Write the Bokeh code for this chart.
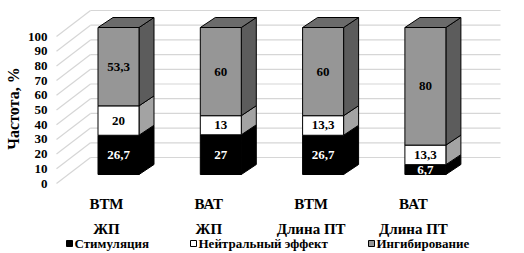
import math
from bokeh.plotting import figure
from bokeh.models import Range1d
from bokeh.core.properties import value
from bokeh.embed import file_html
from bokeh.resources import INLINE

# ---- data ----
group_top = ["ВТМ", "ВАТ", "ВТМ", "ВАТ"]
group_bottom = ["ЖП", "ЖП", "Длина ПТ", "Длина ПТ"]
series_names = ["Стимуляция", "Нейтральный эффект", "Ингибирование"]
stimulation = [26.7, 27, 26.7, 6.7]
neutral = [20, 13, 13.3, 13.3]
inhibition = [53.3, 60, 60, 80]
y_ticks = [0, 10, 20, 30, 40, 50, 60, 70, 80, 90, 100]
y_title = "Частота, %"

# ---- styling / geometry ----
W, H = 524, 253
X0, XS = 118.0, 102.3   # pixel of first bar centre, px per category
Y0, YS = 174.0, 1.47    # pixel of value 0 on bar front plane, px per percent
FONT = value("Liberation Serif")

def px_x(px):  # pixel x -> data x
    return (px - X0) / XS

def px_y(py):  # pixel y -> data y
    return (Y0 - py) / YS

def ox(px):
    return px / XS

def oy(px):  # upward pixel offset -> data
    return px / YS

front_cols = ["#000000", "#ffffff", "#969696"]
side_cols = ["#000000", "#a3a3a3", "#5c5c5c"]
top_cols = ["#000000", "#8c8c8c", "#6b6b6b"]
text_cols = ["#ffffff", "#000000", "#000000"]

p = figure(width=W, height=H, x_range=Range1d(px_x(0), px_x(W)),
           y_range=Range1d(px_y(H), px_y(0)), output_backend="svg",
           toolbar_location=None, min_border=0)
p.xaxis.visible = False
p.yaxis.visible = False
p.xgrid.visible = False
p.ygrid.visible = False
p.outline_line_color = None
p.background_fill_color = "#ffffff"

# ---- gridlines: back wall and left wall ----
BACK_DX, BACK_DY = 23, 17     # back wall offset from bar front plane (px)
LAB_DX, LAB_DY = -12, -9      # label plane offset from bar front plane (px)
wall_left_px, wall_right_px = 90, 500
p.segment(x0=[px_x(wall_left_px)] * len(y_ticks), x1=[px_x(wall_right_px)] * len(y_ticks),
          y0=[v + oy(BACK_DY) for v in y_ticks], y1=[v + oy(BACK_DY) for v in y_ticks],
          line_color="#d6d6d6", line_width=1.2)
p.segment(x0=[px_x(56)] * len(y_ticks), x1=[px_x(wall_left_px)] * len(y_ticks),
          y0=[v + oy(LAB_DY) for v in y_ticks], y1=[v + oy(BACK_DY) for v in y_ticks],
          line_color="#d6d6d6", line_width=1.2)

# ---- tick labels ----
p.text(x=[px_x(47)] * len(y_ticks), y=[v + oy(LAB_DY) for v in y_ticks],
       text=[str(v) for v in y_ticks], text_align="right", text_baseline="middle",
       text_font=FONT, text_font_style="bold", text_font_size="13px", text_color="#000000")

p.text(x=[px_x(13)], y=[px_y(108)], text=[y_title], angle=math.pi / 2,
       text_align="center", text_baseline="middle", text_font=FONT,
       text_font_style="bold", text_font_size="16px", text_color="#000000")

# ---- 3D stacked bars ----
HALF = ox(20.5)
DDX, DDY = ox(15), oy(10)
series = [stimulation, neutral, inhibition]
for i in range(len(group_top)):
    base = 0.0
    l, r = i - HALF, i + HALF
    for s, vals in enumerate(series):
        v = vals[i]
        b, t = base, base + v
        p.patch([r, r + DDX, r + DDX, r], [b, b + DDY, t + DDY, t],
                fill_color=side_cols[s], line_color="#000000", line_width=1)
        if s == len(series) - 1:
            p.patch([l, r, r + DDX, l + DDX], [t, t, t + DDY, t + DDY],
                    fill_color=top_cols[s], line_color="#000000", line_width=1)
        p.quad(left=[l], right=[r], bottom=[b], top=[t], fill_color=front_cols[s],
               line_color="#000000", line_width=1)
        lab = f"{v:g}".replace(".", ",")
        p.text(x=[i], y=[(b + t) / 2], text=[lab], text_align="center",
               text_baseline="middle", text_font=FONT, text_font_style="bold",
               text_font_size="13px", text_color=text_cols[s])
        base = t

# ---- category labels ----
xs_lab = [i + ox(LAB_DX) for i in range(len(group_top))]
p.text(x=xs_lab, y=[px_y(203)] * 4, text=group_top, text_align="center",
       text_baseline="middle", text_font=FONT, text_font_style="bold",
       text_font_size="15px", text_color="#000000")
p.text(x=xs_lab, y=[px_y(228)] * 4, text=group_bottom, text_align="center",
       text_baseline="middle", text_font=FONT, text_font_style="bold",
       text_font_size="15px", text_color="#000000")

# ---- legend ----
leg_y = px_y(243)
leg_marker_px = [69, 193, 371]
leg_fill = ["#000000", "#ffffff", "#969696"]
p.scatter(x=[px_x(m) for m in leg_marker_px], y=[leg_y] * 3, marker="square", size=6,
          fill_color=leg_fill, line_color="#000000", line_width=1)
p.text(x=[px_x(m + 5) for m in leg_marker_px], y=[leg_y] * 3, text=series_names,
       text_align="left", text_baseline="middle", text_font=FONT, text_font_style="bold",
       text_font_size="13px", text_color="#000000")

open("out.html", "w").write(file_html(p, INLINE))
